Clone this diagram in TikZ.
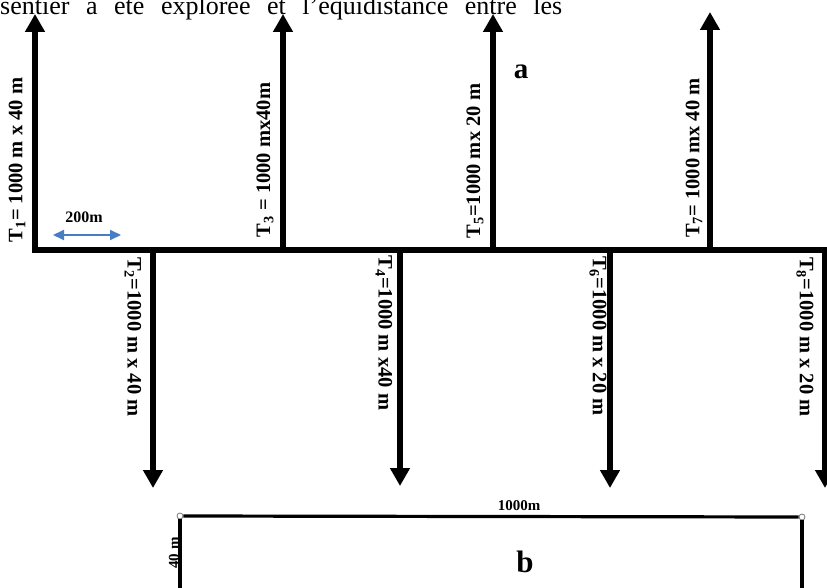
\documentclass[tikz,border=0pt]{standalone}
\usepackage{fontspec}
\setmainfont{Liberation Serif}
\usetikzlibrary{arrows.meta}
\definecolor{arrblue}{RGB}{70,125,195}
\definecolor{circgray}{RGB}{120,120,120}
\tikzset{
  mainline/.style={line width=5.5pt, line cap=rect, black},
  tarrow/.style={line width=5.5pt, black, -{Triangle[width=19pt,length=18pt]}},
  tlab/.style={font=\fontsize{20.5}{22}\selectfont\bfseries, inner sep=0pt},
  smalllab/.style={font=\fontsize{15}{16}\selectfont\bfseries, inner sep=0pt},
  biglab/.style={font=\fontsize{29}{30}\selectfont\bfseries, inner sep=0pt},
  bluearrow/.style={line width=2pt, arrblue, {Triangle[width=10pt,length=11pt]}-{Triangle[width=10pt,length=11pt]}},
  rectline/.style={line width=3.2pt, black},
  endcirc/.style={circle, draw=circgray, fill=white, line width=0.8pt, inner sep=0pt, minimum size=6pt}
}
\begin{document}
\begin{tikzpicture}[x=1pt,y=-1pt]
\useasboundingbox (0,0) rectangle (827,588);
\clip (0,0) rectangle (827,588);
% top text (cut off at the top)
\node[anchor=base west, inner sep=0pt, font=\fontsize{26}{28}\selectfont] (toptext) at (0,15)
  {\makebox[562pt][s]{sentier a été explorée et l'équidistance entre les}};
% base points and tips
\coordinate (b1) at (35,250);  \coordinate (t1) at (35,14);
\coordinate (b2) at (153,250); \coordinate (t2) at (153,488);
\coordinate (b3) at (283,250); \coordinate (t3) at (283,14);
\coordinate (b4) at (400,250); \coordinate (t4) at (400,486);
\coordinate (b5) at (493,250); \coordinate (t5) at (493,14);
\coordinate (b6) at (610,250); \coordinate (t6) at (610,488);
\coordinate (b7) at (710,250); \coordinate (t7) at (710,12);
\coordinate (b8) at (825,250); \coordinate (t8) at (825,488);
\draw[mainline] (b1) -- (b8);
\foreach \i in {1,...,8} { \draw[tarrow] (b\i) -- (t\i); }
% transect labels
\node[tlab, rotate=90]  (l1) at (17,160)  {T\textsubscript{1}= 1000 m x 40 m};
\node[tlab, rotate=90]  (l3) at (265,160) {T\textsubscript{3} = 1000 mx40m};
\node[tlab, rotate=90]  (l5) at (475,161) {T\textsubscript{5}=1000 mx 20 m};
\node[tlab, rotate=90]  (l7) at (694,158) {T\textsubscript{7}= 1000 mx 40 m};
\node[tlab, rotate=-90] (l2) at (133,337) {T\textsubscript{2}=1000 m x 40 m};
\node[tlab, rotate=-90] (l4) at (384,333) {T\textsubscript{4}=1000 m x40 m};
\node[tlab, rotate=-90] (l6) at (598,336) {T\textsubscript{6}=1000 m x 20 m};
\node[tlab, rotate=-90] (l8) at (805,337) {T\textsubscript{8}=1000 m x 20 m};
% 200 m scale
\coordinate (d1) at (53,235);
\coordinate (d2) at (121,235);
\draw[bluearrow] (d1) -- (d2);
\node[smalllab, font=\fontsize{16}{17}\selectfont\bfseries] (s200) at (84,217) {200m};
% label a
\node[biglab] (la) at (521,72) {a};
% plot b
\coordinate (c4) at (180,595);
\coordinate (c3) at (802,595);
\node[endcirc] (c1) at (180,516) {};
\node[endcirc] (c2) at (802,517) {};
\draw[rectline] (c4) -- (c1.south);
\draw[rectline] (c1.east) -- (c2.west);
\draw[rectline] (c2.south) -- (c3);
\node[smalllab] (l1000) at (519,506) {1000m};
\node[smalllab, rotate=90] (l40) at (174,553) {40 m};
\node[biglab, font=\fontsize{31}{32}\selectfont\bfseries] (lb) at (525,562) {b};
\end{tikzpicture}
\end{document}
